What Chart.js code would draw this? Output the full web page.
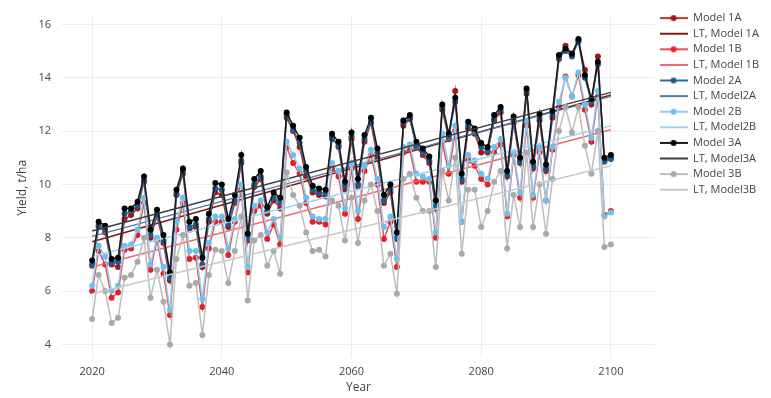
<!DOCTYPE html>
<html><head><meta charset="utf-8">
<script src="https://cdn.jsdelivr.net/npm/chart.js@4"></script>
<style>html,body{margin:0;padding:0;background:#fff}#wrap{width:771px;height:398px;position:relative}</style>
</head><body><div id="wrap"><canvas id="c"></canvas></div>
<script>
// ---- data ----
const years = [2020,2021,2022,2023,2024,2025,2026,2027,2028,2029,
  2030,2031,2032,2033,2034,2035,2036,2037,2038,2039,
  2040,2041,2042,2043,2044,2045,2046,2047,2048,2049,
  2050,2051,2052,2053,2054,2055,2056,2057,2058,2059,
  2060,2061,2062,2063,2064,2065,2066,2067,2068,2069,
  2070,2071,2072,2073,2074,2075,2076,2077,2078,2079,
  2080,2081,2082,2083,2084,2085,2086,2087,2088,2089,
  2090,2091,2092,2093,2094,2095,2096,2097,2098,2099,2100];
const model1A = [6.95,8.45,8.2,7.0,6.9,8.7,8.85,9.1,10.1,8.0,
  8.8,7.8,6.4,9.6,10.4,8.3,8.4,6.9,8.6,9.7,
  9.6,8.4,9.3,10.8,7.9,9.9,10.2,8.9,9.4,9.1,
  12.5,12.0,11.4,10.3,9.7,9.6,9.55,11.8,11.4,9.8,
  11.7,9.9,11.6,12.3,11.0,9.3,9.7,7.95,12.2,12.45,
  11.4,11.1,10.8,9.1,12.8,11.7,13.5,10.1,12.1,11.9,
  11.2,11.2,12.4,12.7,10.3,12.3,10.8,13.4,10.6,12.4,
  10.5,12.5,14.7,15.2,14.9,15.4,14.3,13.0,14.8,10.9,11.0];
const model1B = [6.0,7.5,7.0,5.75,5.95,7.55,7.6,8.1,9.3,6.8,
  7.9,6.65,5.1,8.3,9.3,7.2,7.25,5.4,7.6,8.6,
  8.6,7.35,8.6,9.8,6.7,9.0,9.2,7.95,8.5,7.75,
  11.4,10.8,10.4,9.3,8.6,8.6,8.5,10.6,10.3,8.9,
  10.6,8.7,10.5,11.1,10.0,7.95,8.6,6.9,11.2,11.3,
  10.1,10.1,10.1,8.0,11.6,10.4,12.0,8.6,10.9,10.7,
  10.2,10.0,11.2,11.5,8.8,11.1,9.5,12.2,9.5,11.2,
  9.4,11.3,12.9,14.05,13.3,14.1,12.8,11.6,13.3,8.85,9.0];
const model2A = [7.0,8.4,8.3,7.05,7.1,8.9,9.0,9.2,10.15,8.1,
  8.9,7.9,6.5,9.65,10.5,8.4,8.5,7.0,8.7,9.85,
  9.8,8.5,9.4,10.9,8.0,10.0,10.3,9.0,9.5,9.3,
  12.6,12.05,11.55,10.5,9.8,9.7,9.65,11.7,11.45,9.95,
  11.8,10.0,11.7,12.35,11.2,9.4,9.8,8.0,12.3,12.5,
  11.45,11.2,10.9,9.2,12.9,11.8,13.1,10.2,12.2,11.95,
  11.4,11.25,12.45,12.8,10.35,12.4,10.85,13.5,10.7,12.5,
  10.6,12.6,14.75,15.0,14.8,15.35,14.0,13.1,14.5,10.85,10.95];
const model2B = [6.2,7.7,7.3,6.0,6.2,7.7,7.75,8.3,9.5,7.0,
  8.0,6.9,5.3,8.6,9.5,7.5,7.5,5.7,7.8,8.8,
  8.8,7.6,8.7,10.0,6.9,9.2,9.4,8.2,8.7,8.0,
  11.6,11.1,10.6,9.5,8.8,8.7,8.7,10.8,10.5,9.1,
  10.8,9.0,10.7,11.3,10.2,8.4,8.8,7.2,11.4,11.5,
  10.4,10.3,10.2,8.2,11.9,10.7,12.2,8.6,11.1,10.9,
  10.4,10.2,11.4,11.7,8.9,11.2,9.7,12.4,9.6,11.4,
  9.4,11.4,13.1,14.0,13.3,14.2,13.0,11.75,13.5,8.8,8.95];
const model3A = [7.15,8.6,8.45,7.2,7.25,9.1,9.1,9.35,10.3,8.3,
  9.05,8.1,6.7,9.8,10.6,8.6,8.7,7.25,8.9,10.05,
  10.0,8.7,9.6,11.1,8.15,10.2,10.5,9.15,9.7,9.5,
  12.7,12.2,11.75,10.65,9.95,9.85,9.8,11.9,11.6,10.1,
  11.95,10.2,11.85,12.5,11.35,9.6,10.0,8.2,12.4,12.6,
  11.6,11.35,11.05,9.4,13.0,11.9,13.25,10.4,12.35,12.1,
  11.55,11.4,12.6,12.9,10.5,12.55,11.0,13.6,10.85,12.65,
  10.75,12.75,14.85,15.1,14.9,15.45,14.1,13.2,14.6,11.0,11.1];
const model3B = [4.95,6.6,6.0,4.8,5.0,6.5,6.6,7.1,8.0,5.75,
  6.8,5.6,4.0,7.2,8.1,6.2,6.3,4.35,6.6,7.55,
  7.5,6.3,7.5,8.8,5.65,7.9,8.1,6.95,7.5,6.65,
  10.45,9.6,9.2,8.2,7.5,7.55,7.3,9.4,9.2,7.9,
  9.5,7.8,9.4,10.0,9.0,6.95,7.4,5.9,10.2,10.4,
  9.5,9.0,9.0,6.9,10.5,9.4,11.0,7.4,9.8,9.8,
  8.4,9.0,10.1,10.5,7.6,9.6,8.4,11.2,8.4,10.0,
  8.15,10.2,12.0,12.9,11.95,12.9,11.45,10.4,12.0,7.65,7.75];
// linear trends (end points)
const trendYears = [2020, 2100];
const trend1A = [7.85, 13.35];
const trend1B = [6.9, 12.05];
const trend2A = [8.05, 13.3];
const trend2B = [7.3, 12.2];
const trend3A = [8.25, 13.45];
const trend3B = [5.9, 10.7];
const xTicks = [2020, 2040, 2060, 2080, 2100];
const yTicks = [4, 6, 8, 10, 12, 14, 16];

// ---- styles ----
const seriesDefs = [
  {label:'Model 1A', xs:years, ys:model1A, line:'#c9302c', mark:'#a3161b', pts:true},
  {label:'LT, Model 1A', xs:trendYears, ys:trend1A, line:'#7d1a1a', pts:false},
  {label:'Model 1B', xs:years, ys:model1B, line:'#ee4a52', mark:'#e5202b', pts:true},
  {label:'LT, Model 1B', xs:trendYears, ys:trend1B, line:'#ee6a72', pts:false},
  {label:'Model 2A', xs:years, ys:model2A, line:'#2f6d9c', mark:'#1f5a8a', pts:true},
  {label:'LT, Model2A', xs:trendYears, ys:trend2A, line:'#4d7ea6', pts:false},
  {label:'Model 2B', xs:years, ys:model2B, line:'#8fd0f0', mark:'#6cc0ec', pts:true},
  {label:'LT, Model2B', xs:trendYears, ys:trend2B, line:'#9ad6f2', pts:false},
  {label:'Model 3A', xs:years, ys:model3A, line:'#1a1a1a', mark:'#000000', pts:true},
  {label:'LT, Model3A', xs:trendYears, ys:trend3A, line:'#3c3c3c', pts:false},
  {label:'Model 3B', xs:years, ys:model3B, line:'#bdbdbd', mark:'#a9a9a9', pts:true},
  {label:'LT, Model3B', xs:trendYears, ys:trend3B, line:'#c9c9c9', pts:false}
];

function legendIcon(d){
  const cv = document.createElement('canvas');
  cv.width = 28; cv.height = 10;
  const c = cv.getContext('2d');
  c.strokeStyle = d.line; c.lineWidth = 2;
  c.beginPath(); c.moveTo(0,5); c.lineTo(28,5); c.stroke();
  if (d.pts){ c.fillStyle = d.mark; c.beginPath(); c.arc(14,5,3,0,Math.PI*2); c.fill(); }
  return cv;
}

const n = seriesDefs.length;
const datasets = seriesDefs.map((d,i)=>({
  label: d.label,
  data: d.xs.map((x,k)=>({x:x, y:d.ys[k]})),
  borderColor: d.line,
  backgroundColor: d.pts ? d.mark : d.line,
  borderWidth: 1.5,
  pointRadius: d.pts ? 3 : 0,
  pointHoverRadius: d.pts ? 3 : 0,
  pointBorderWidth: 0,
  pointBackgroundColor: d.pts ? d.mark : d.line,
  pointStyle: legendIcon(d),
  tension: 0,
  fill: false,
  order: n - i
}));
// keep markers as circles on the plot while using icons in legend
datasets.forEach(ds=>{ ds._icon = ds.pointStyle; ds.pointStyle = 'circle'; });

const FONT = "'Open Sans', 'DejaVu Sans', sans-serif";
Chart.defaults.font.family = FONT;
Chart.defaults.color = '#444';

new Chart(document.getElementById('c'), {
  type: 'line',
  data: { datasets },
  options: {
    responsive: true, maintainAspectRatio: false, animation: false,
    layout: { padding: { top: 8, right: 2, bottom: 0, left: 0 } },
    plugins: {
      tooltip: { enabled: false },
      legend: {
        position: 'right', align: 'start',
        labels: {
          usePointStyle: true, pointStyleWidth: 28, padding: 4.6,
          font: { size: 11, family: FONT }, color: '#444',
          sort: (a,b)=>a.datasetIndex-b.datasetIndex,
          generateLabels: (chart)=> chart.data.datasets.map((ds,i)=>({
            text: ds.label, datasetIndex: i, pointStyle: ds._icon,
            fillStyle: ds.borderColor, strokeStyle: ds.borderColor, lineWidth: 0,
            hidden: false, fontColor: '#444'
          }))
        }
      }
    },
    scales: {
      x: {
        type: 'linear', min: 2015.35, max: 2106.8,
        afterFit: s => { s.height = 40; },
        afterBuildTicks: s => { s.ticks = xTicks.map(v=>({value:v})); },
        grid: { color: '#ececec', drawTicks: false, lineWidth: 1 },
        border: { display: false },
        ticks: { padding: 7, font: { size: 11 }, color: '#444', callback: v => String(v), maxRotation: 0 },
        title: { display: true, text: 'Year', font: { size: 12 }, color: '#444', padding: { top: 0, bottom: 3 } }
      },
      y: {
        min: 3.49, max: 16.255,
        afterFit: s => { s.width = 62; },
        afterBuildTicks: s => { s.ticks = yTicks.map(v=>({value:v})); },
        grid: { color: '#ececec', drawTicks: false, lineWidth: 1 },
        border: { display: false },
        ticks: { padding: 11, font: { size: 11 }, color: '#444', callback: v => String(v) },
        title: { display: true, text: 'Yield, t/ha', font: { size: 12 }, color: '#444', padding: { top: 15, bottom: 0 } }
      }
    }
  }
});
</script>
</body></html>
